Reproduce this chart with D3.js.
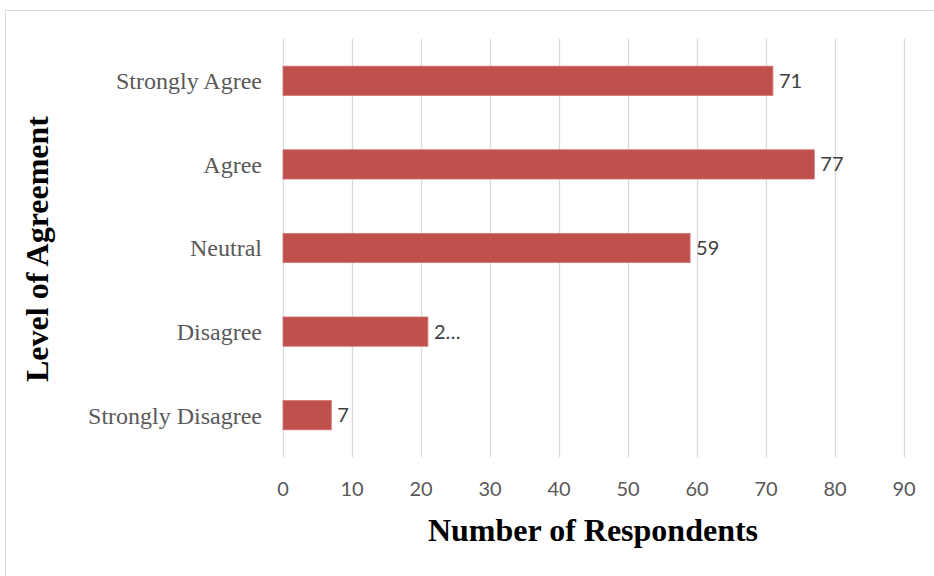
<!DOCTYPE html>
<html><head><meta charset="utf-8">
<script src="https://cdn.jsdelivr.net/npm/d3@7"></script>
<style>body{margin:0;background:#fff}svg{display:block}</style>
</head><body>
<script>
const categories = ["Strongly Agree","Agree","Neutral","Disagree","Strongly Disagree"];
const values = [71,77,59,21,7];
const valueLabels = ["71","77","59","2…","7"];
const xTicks = [0,10,20,30,40,50,60,70,80,90];

const W=934,H=576;
const svg=d3.select("body").append("svg").attr("width",W).attr("height",H);
svg.append("rect").attr("x",5.5).attr("y",10.5).attr("width",W).attr("height",H)
  .attr("fill","#fff").attr("stroke","#d9d9d9").attr("stroke-width",1);

const x=d3.scaleLinear().domain([0,90]).range([283,904]);
const y=d3.scaleBand().domain(categories).range([39,457]).paddingInner(0.65).paddingOuter(0.325);

svg.append("g").selectAll("line").data(xTicks).join("line")
  .attr("x1",d=>Math.round(x(d))+0.5).attr("x2",d=>Math.round(x(d))+0.5)
  .attr("y1",39).attr("y2",457).attr("stroke","#d9d9d9").attr("stroke-width",1.3);

svg.append("g").selectAll("rect").data(values).join("rect")
  .attr("x",x(0)).attr("y",(d,i)=>y(categories[i]))
  .attr("width",d=>x(d)-x(0)).attr("height",y.bandwidth())
  .attr("fill","#c0504d").attr("stroke","#d27573").attr("stroke-width",0.8);

svg.append("g").selectAll("text").data(values).join("text")
  .attr("x",d=>x(d)+6).attr("y",(d,i)=>y(categories[i])+y.bandwidth()/2)
  .attr("dy","0.35em").attr("font-family","Lato, 'Open Sans', sans-serif")
  .attr("font-size",20).attr("fill","#404040").text((d,i)=>valueLabels[i]);

svg.append("g").selectAll("text").data(categories).join("text")
  .attr("x",262).attr("y",d=>y(d)+y.bandwidth()/2).attr("dy","0.35em")
  .attr("text-anchor","end").attr("font-family","'Liberation Serif', serif")
  .attr("font-size",24).attr("fill","#595959").text(d=>d);

svg.append("g").selectAll("text").data(xTicks).join("text")
  .attr("x",d=>x(d)).attr("y",489).attr("dy","0.35em").attr("text-anchor","middle")
  .attr("font-family","Lato, 'Open Sans', sans-serif").attr("font-size",20)
  .attr("fill","#595959").text(d=>d);

svg.append("text").attr("x",593).attr("y",530).attr("dy","0.35em").attr("text-anchor","middle")
  .attr("font-family","'Liberation Serif', serif").attr("font-weight","bold")
  .attr("font-size",32).attr("fill","#000").text("Number of Respondents");

svg.append("text").attr("transform","translate(37,249) rotate(-90)").attr("dy","0.35em")
  .attr("text-anchor","middle").attr("font-family","'Liberation Serif', serif")
  .attr("font-weight","bold").attr("font-size",32).attr("fill","#000").text("Level of Agreement");
</script>
</body></html>
